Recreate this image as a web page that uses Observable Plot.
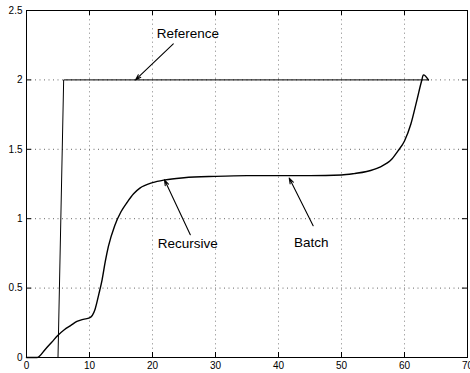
<!DOCTYPE html>
<html><head><meta charset="utf-8">
<script src="https://cdn.jsdelivr.net/npm/d3@7"></script>
<script src="https://cdn.jsdelivr.net/npm/@observablehq/plot@0.6"></script>
<style>
html,body{margin:0;padding:0;background:#fff;}
#chart svg{display:block;}
</style>
</head><body><div id="chart"></div>
<script>
const xTicks = [0,10,20,30,40,50,60,70];
const yTicks = [0,0.5,1,1.5,2,2.5];
const yTickLabels = ["0","0.5","1","1.5","2","2.5"];

const refX = [5, 5.9, 63.8];
const refY = [0, 2, 2];

const respX = [0,1.7,3,4,5,6,7,8,9,10,10.9,11.5,12,12.5,13,14,15,16,17,18,20,22,25,30,35,40,45,50,52,54,56,58,59,60,61,62,62.7,63,63.8];
const respY = [0,0,0.06,0.11,0.16,0.2,0.23,0.26,0.275,0.285,0.35,0.46,0.56,0.69,0.8,0.95,1.05,1.12,1.18,1.22,1.26,1.28,1.295,1.305,1.31,1.31,1.31,1.315,1.325,1.34,1.37,1.43,1.49,1.56,1.68,1.86,1.99,2.036,2.0];

const labels = ["Reference","Recursive","Batch"];
const labelX = [25.6, 25.6, 45.2];
const labelY = [2.33, 0.82, 0.83];
const arrowX1 = [23.3, 26.0, 45.5];
const arrowY1 = [2.26, 0.885, 0.95];
const arrowX2 = [17.3, 21.9, 41.7];
const arrowY2 = [2.0, 1.28, 1.293];

const ref = refX.map((x,i)=>({x, y: refY[i]}));
const resp = respX.map((x,i)=>({x, y: respY[i]}));
const ann = labels.map((t,i)=>({t, x: labelX[i], y: labelY[i], x1: arrowX1[i], y1: arrowY1[i], x2: arrowX2[i], y2: arrowY2[i]}));

const font = "Liberation Sans, Arial, Helvetica, sans-serif";
const tx = 0.8, ty = 0.036;

const chart = Plot.plot({
  width: 470, height: 373,
  marginLeft: 26, marginRight: 3, marginTop: 10, marginBottom: 16,
  style: {fontFamily: font, fontSize: "10px", color: "#000", background: "#fff", overflow: "visible"},
  x: {domain: [0,70]},
  y: {domain: [0,2.5]},
  marks: [
    Plot.ruleX(xTicks.slice(1,-1), {x: d=>d, stroke: "#aaa", strokeDasharray: "1.5,3", strokeWidth: 1}),
    Plot.ruleY(yTicks.slice(1,-1), {y: d=>d, stroke: "#666", strokeDasharray: "1,3.5", strokeWidth: 1}),
    Plot.ruleX(xTicks, {x: d=>d, y1: 0, y2: ty, stroke: "#000"}),
    Plot.ruleX(xTicks, {x: d=>d, y1: 2.5 - ty, y2: 2.5, stroke: "#000"}),
    Plot.ruleY(yTicks, {y: d=>d, x1: 0, x2: tx, stroke: "#000"}),
    Plot.ruleY(yTicks, {y: d=>d, x1: 70 - tx, x2: 70, stroke: "#000"}),
    Plot.axisX(xTicks, {tickSize: 0, tickPadding: 4, fontSize: 10, tickFormat: d=>String(d)}),
    Plot.axisY(yTicks, {tickSize: 0, tickPadding: 4, fontSize: 10, tickFormat: d=>yTickLabels[yTicks.indexOf(d)]}),
    Plot.line(ref, {x: "x", y: "y", stroke: "#000", strokeWidth: 1}),
    Plot.line(resp, {x: "x", y: "y", stroke: "#000", strokeWidth: 1.4, curve: "monotone-x"}),
    Plot.arrow(ann, {x1: "x1", y1: "y1", x2: "x2", y2: "y2", stroke: "#000", strokeWidth: 1.1, headLength: 8, headAngle: 35}),
    Plot.text(ann, {x: "x", y: "y", text: "t", fontSize: 13.5, fill: "#000", fontFamily: font}),
    Plot.frame({stroke: "#000", strokeWidth: 1})
  ]
});
document.getElementById("chart").appendChild(chart);
</script>
</body></html>
